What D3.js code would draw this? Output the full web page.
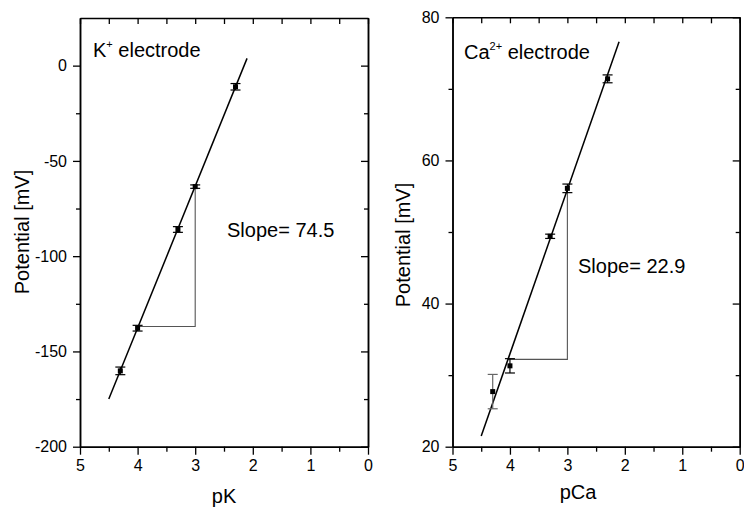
<!DOCTYPE html>
<html><head><meta charset="utf-8">
<script src="https://cdn.jsdelivr.net/npm/d3@7"></script>
<style>
body{margin:0;background:#fff}
svg{display:block;font-family:"Liberation Sans",Arial,sans-serif}
</style></head>
<body><svg id="c" width="744" height="508"></svg>
<script>
// ---- data ----
const kX = [2.3, 3.0, 3.3, 4.0, 4.3];
const kY = [-11.1, -63.5, -86.0, -137.8, -160.2];
const kErr = [1.7, 0.9, 1.5, 1.5, 2.0];
const kFit = [[4.5, -175.0], [2.1, 3.8]];
const kTri = [[4.0, -136.9], [3.0, -136.9], [3.0, -63.5]];

const caX = [2.3, 3.0, 3.3, 4.0, 4.3];
const caY = [71.4, 56.1, 49.4, 31.3, 27.7];
const caErr = [0.55, 0.6, 0.3, 1.0, 2.4];
const caFit = [[4.5, 21.5], [2.1, 76.6]];
const caTri = [[4.03, 32.2], [3.0, 32.2], [3.0, 56.0]];

const xTicks = [5, 4, 3, 2, 1, 0];
const kYTicks = [-200, -150, -100, -50, 0];
const caYTicks = [20, 40, 60, 80];

const svg = d3.select("#c");
const FONT = "'Liberation Sans', Arial, sans-serif";

function panel(o) {
  const x = d3.scaleLinear().domain([5, 0]).range([o.x0, o.x1]);
  const y = d3.scaleLinear().domain(o.yDom).range([446.7, o.yTop]);
  const g = svg.append("g");

  function style(a) {
    a.selectAll("path.domain").attr("stroke", "#000").attr("stroke-width", 1.5);
    a.selectAll(".tick line").attr("stroke", "#000").attr("stroke-width", 1.3);
    a.selectAll("text").attr("font-family", FONT).attr("font-size", 16).attr("fill", "#000");
  }
  const minorX = d3.range(0.5, 5, 1);
  const minorY = o.minorY;

  // bottom axis
  const b = g.append("g").attr("transform", `translate(0,446.7)`)
    .call(d3.axisBottom(x).tickValues(xTicks).tickFormat(d3.format("d")).tickSizeInner(8).tickSizeOuter(0).tickPadding(5));
  style(b);
  const bm = g.append("g").attr("transform", `translate(0,446.7)`)
    .call(d3.axisBottom(x).tickValues(minorX).tickFormat("").tickSizeInner(5).tickSizeOuter(0));
  style(bm);
  // top axis (inward)
  const t = g.append("g").attr("transform", `translate(0,${o.yTop})`)
    .call(d3.axisTop(x).tickValues(xTicks.concat(minorX)).tickFormat("").tickSizeInner(-6).tickSizeOuter(0));
  style(t);
  // left axis
  const l = g.append("g").attr("transform", `translate(${o.x0},0)`)
    .call(d3.axisLeft(y).tickValues(o.yTicks).tickFormat(d3.format("d")).tickSizeInner(7).tickSizeOuter(0).tickPadding(6));
  style(l);
  l.selectAll("text").text(d => String(d).replace("\u2212", "-"));
  const lm = g.append("g").attr("transform", `translate(${o.x0},0)`)
    .call(d3.axisLeft(y).tickValues(minorY).tickFormat("").tickSizeInner(4).tickSizeOuter(0));
  style(lm);
  // right axis (inward)
  const r = g.append("g").attr("transform", `translate(${o.x1},0)`)
    .call(d3.axisRight(y).tickValues(o.yTicks).tickFormat("").tickSizeInner(-7).tickSizeOuter(0));
  style(r);
  const rm = g.append("g").attr("transform", `translate(${o.x1},0)`)
    .call(d3.axisRight(y).tickValues(minorY).tickFormat("").tickSizeInner(-4).tickSizeOuter(0));
  style(rm);

  const line = d3.line().x(d => x(d[0])).y(d => y(d[1]));
  // triangle
  g.append("path").attr("d", line(o.tri)).attr("fill", "none").attr("stroke", "#555").attr("stroke-width", 1.1);
  // fit line
  g.append("path").attr("d", line(o.fit)).attr("fill", "none").attr("stroke", "#000").attr("stroke-width", 1.5);

  // error bars
  o.xs.forEach((xv, i) => {
    const col = o.errCol[i];
    const cx = x(xv), y1 = y(o.ys[i] + o.err[i]), y2 = y(o.ys[i] - o.err[i]);
    g.append("line").attr("x1", cx).attr("x2", cx).attr("y1", y1).attr("y2", y2).attr("stroke", col).attr("stroke-width", 1.2);
    [y1, y2].forEach(yy => g.append("line").attr("x1", cx - 5).attr("x2", cx + 5).attr("y1", yy).attr("y2", yy).attr("stroke", col).attr("stroke-width", 1.2));
    g.append("rect").attr("x", cx - 2.5).attr("y", y(o.ys[i]) - 2.5).attr("width", 5).attr("height", 5).attr("fill", "#000");
  });

  // axis titles
  g.append("text").attr("transform", `translate(${o.yLabX},${o.yLabY}) rotate(-90)`)
    .attr("text-anchor", "middle").attr("font-family", FONT).attr("font-size", 20).text("Potential [mV]");
  g.append("text").attr("x", o.xLabX).attr("y", o.xLabY).attr("text-anchor", "middle")
    .attr("font-family", FONT).attr("font-size", 20).text(o.xLab);

  // title
  const tt = g.append("text").attr("x", o.titleX).attr("y", o.titleY).attr("font-family", FONT).attr("font-size", 20);
  tt.append("tspan").text(o.ion);
  tt.append("tspan").attr("font-size", 11).attr("dy", -9).text(o.charge);
  tt.append("tspan").attr("dy", 9).text(" electrode");

  g.append("text").attr("x", o.slopeX).attr("y", o.slopeY).attr("font-family", FONT).attr("font-size", 20).text(o.slope);
}

panel({x0: 80, x1: 368, yTop: 18, yDom: [-200, 25], yTicks: kYTicks, minorY: [-175, -125, -75, -25],
  xs: kX, ys: kY, err: kErr, errCol: kX.map(() => "#000"), fit: kFit, tri: kTri,
  yLabX: 29, yLabY: 232, xLab: "pK", xLabX: 224, xLabY: 503,
  titleX: 93, titleY: 57, ion: "K", charge: "+", slopeX: 227, slopeY: 237, slope: "Slope= 74.5"});

panel({x0: 452.5, x1: 739.7, yTop: 17.3, yDom: [20, 80], yTicks: caYTicks, minorY: [30, 50, 70],
  xs: caX, ys: caY, err: caErr, errCol: ["#000", "#000", "#000", "#000", "#666"], fit: caFit, tri: caTri,
  yLabX: 410, yLabY: 245, xLab: "pCa", xLabX: 578, xLabY: 499,
  titleX: 464, titleY: 59, ion: "Ca", charge: "2+", slopeX: 578, slopeY: 273, slope: "Slope= 22.9"});
</script></body></html>
